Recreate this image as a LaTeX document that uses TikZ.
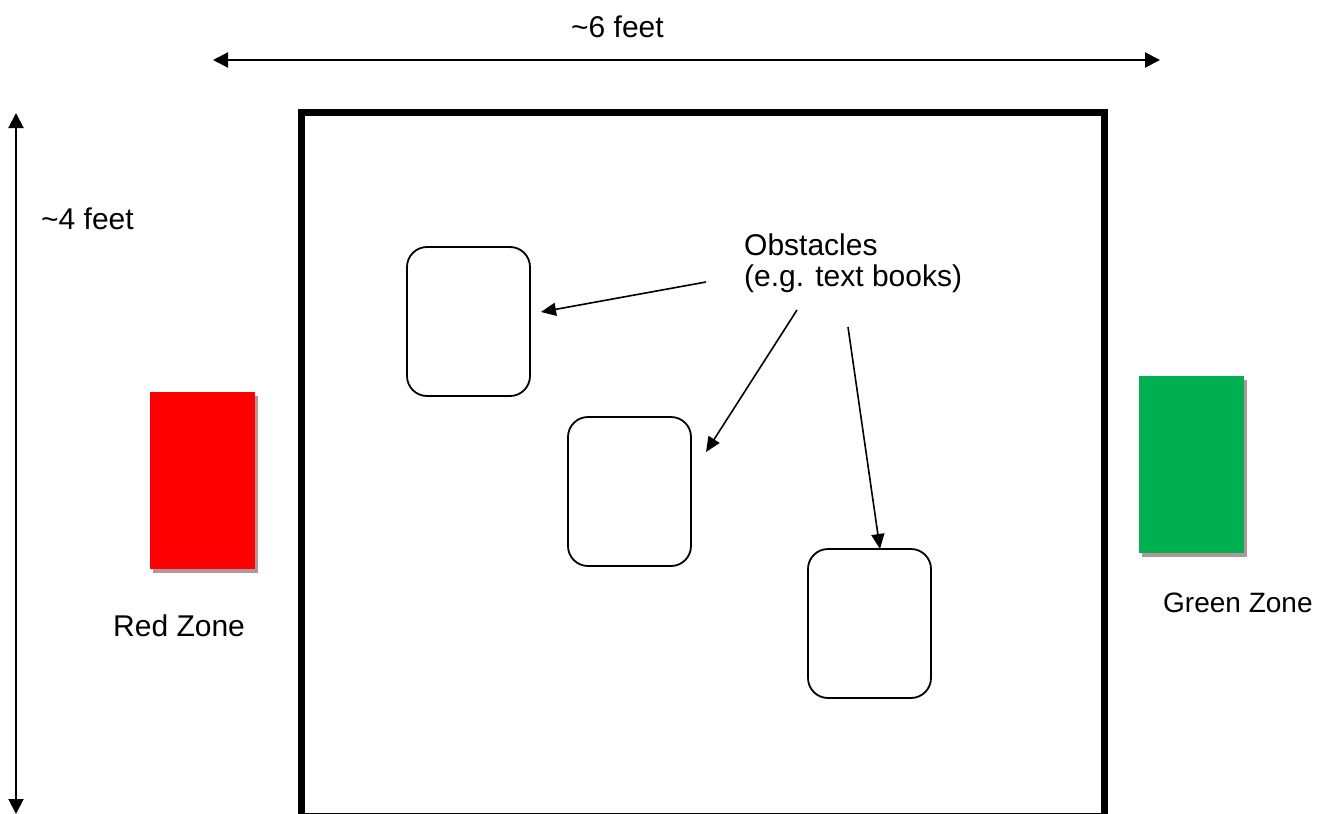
\documentclass[tikz,border=0pt]{standalone}
\usepackage{fontspec}
\setmainfont{Liberation Sans}
\usetikzlibrary{arrows.meta,shadows}
\definecolor{zonered}{RGB}{255,0,0}
\definecolor{zonegreen}{RGB}{0,176,80}
\definecolor{shadowcol}{RGB}{176,152,152}
\tikzset{
  dimarrow/.style={line width=2pt,{Triangle[length=15pt,width=15pt]}-{Triangle[length=15pt,width=15pt]}},
  ptr/.style={line width=1.6pt,-{Triangle[length=15pt,width=13pt]}},
  obstacle/.style={draw,line width=1.8pt,rounded corners=20pt,minimum width=123pt,minimum height=149pt,inner sep=0pt,outer sep=0pt},
  zone/.style={minimum width=105pt,minimum height=177pt,inner sep=0pt,outer sep=0pt,
    drop shadow={shadow xshift=3pt,shadow yshift=-4pt,fill=shadowcol,opacity=1}},
  lbl/.style={font=\fontsize{30}{32}\selectfont,inner sep=0pt,anchor=base west},
  smalllbl/.style={font=\fontsize{28}{32}\selectfont,inner sep=0pt,anchor=base west}
}
\begin{document}
\begin{tikzpicture}[x=1pt,y=-1pt]
\useasboundingbox (0,0) rectangle (1326,814);
\clip (0,0) rectangle (1326,814);
% dimension arrows
\coordinate (hl) at (213,60);
\coordinate (hr) at (1160,60);
\coordinate (vt) at (16,113);
\coordinate (vb) at (16,814);
\draw[dimarrow] (hl) -- (hr);
\draw[dimarrow] (vt) -- (vb);
\node[lbl] (six) at (571,37) {\textasciitilde 6 feet};
\node[lbl] (four) at (41,229) {\textasciitilde 4 feet};
% arena
\node[draw,line width=7pt,minimum width=803pt,minimum height=703.8pt,inner sep=0pt,outer sep=0pt,anchor=north west] (arena) at (301.5,112.5) {};
% zones
\node[zone,fill=zonered,anchor=north west] (red) at (150,392) {};
\node[zone,fill=zonegreen,anchor=north west] (green) at (1139,376) {};
\node[lbl] (redlbl) at (113,636) {Red Zone};
\node[smalllbl] (greenlbl) at (1163,612) {Green Zone};
% obstacles
\node[obstacle,anchor=north west] (o1) at (407,247) {};
\node[obstacle,anchor=north west] (o2) at (568,417) {};
\node[obstacle,anchor=north west] (o3) at (808,549) {};
\node[lbl] (obs) at (744,255) {Obstacles};
\node[lbl] (obs2) at (744,286) {(e.g. text books)};
% pointers
\coordinate (s1) at (706,282);
\coordinate (t1) at (541,312);
\coordinate (s2) at (797,310);
\coordinate (t2) at (706,452);
\coordinate (s3) at (848,327);
\coordinate (t3) at (880,549);
\draw[ptr] (s1) -- (t1);
\draw[ptr] (s2) -- (t2);
\draw[ptr] (s3) -- (t3);
\end{tikzpicture}
\end{document}
